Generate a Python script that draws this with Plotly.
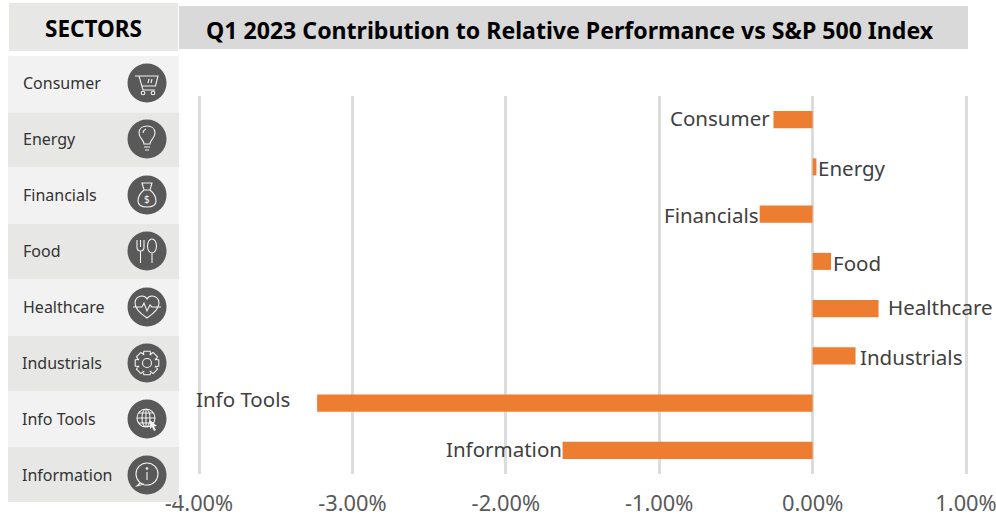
import math, re
import plotly.graph_objects as go

categories = ["Consumer", "Energy", "Financials", "Food", "Healthcare", "Industrials", "Info Tools", "Information"]
values = [-0.255, 0.025, -0.345, 0.12, 0.43, 0.28, -3.23, -1.63]
tick_vals = [-4, -3, -2, -1, 0, 1]
tick_text = ["-4.00%", "-3.00%", "-2.00%", "-1.00%", "0.00%", "1.00%"]
title_text = "Q1 2023 Contribution to Relative Performance vs S&P 500 Index"
header_text = "SECTORS"

FONT = "Noto Sans"
W, H = 996, 516
TXT = "#404040"
label_shift_x = [-1, 0, 1, 0, 7, 2, -25.5, 1]
label_shift_y = [1.5, -1, -1, -2, 2, -1, 4, 1]

row_edges = [56, 112.5, 167, 224, 279, 336, 391, 447, 502]
row_text_y = [83, 139, 195, 251, 307, 363, 419, 475]
row_text_x = [21, 21, 21, 21, 21, 20, 20, 20]
icon_x = 147
# the axis runs a little past -4% and 1% so that the outer gridlines are kept
axis_pad = 0.02
px_left, px_right = 199, 966
px_per_unit = (px_right - px_left) / 5

def circ(x, y, r, ry=None):
    ry = r if ry is None else ry
    k = 0.5523
    return (f"M {x-r} {y} C {x-r} {y-k*ry} {x-k*r} {y-ry} {x} {y-ry} "
            f"C {x+k*r} {y-ry} {x+r} {y-k*ry} {x+r} {y} "
            f"C {x+r} {y+k*ry} {x+k*r} {y+ry} {x} {y+ry} "
            f"C {x-k*r} {y+ry} {x-r} {y+k*ry} {x-r} {y} Z ")

def shift(path, cx, cy):
    out, is_x = [], True
    for tok in path.split():
        if re.fullmatch(r"[A-Z]", tok):
            out.append(tok); is_x = True
        else:
            v = float(tok)
            out.append(f"{v + (cx if is_x else cy):.2f}")
            is_x = not is_x
    return " ".join(out)

gear = ""
for i in range(8):
    a = i * math.pi / 4
    b1, b2 = a - 0.26, a + 0.26
    pts = [(9.2, a - 0.42), (12.2, b1), (12.2, b2), (9.2, a + 0.42)]
    for j, (r, t) in enumerate(pts):
        cmd = "M" if (i == 0 and j == 0) else "L"
        gear += f"{cmd} {r*math.cos(t):.2f} {r*math.sin(t):.2f} "
gear += "Z " + circ(0, 0, 4.5)

icons = [
    "M -12 -7 L -8 -7 L -4 7 L 8 7 M -7.5 -7 L 11 -7 L 8.5 3 L -5 3 M 2 -4 L 1 0 M 5 -4 L 4 0 " + circ(-4, 10, 1.8) + circ(6, 10, 1.8),
    "M -3 5 C -3 1 -8 -1 -8 -6 C -8 -11 -4 -13 0 -13 C 4 -13 8 -11 8 -6 C 8 -1 3 1 3 5 Z M -3 8 L 3 8 M -2 11 L 2 11 M -4 -6 C -4 -8 -3 -9 -1 -10",
    "M -5 -12 L 5 -12 L 3 -5 L -3 -5 Z M -3 -5 C -8 -1 -9 3 -9 6 C -9 11 -5 12 0 12 C 5 12 9 11 9 6 C 9 3 8 -1 3 -5",
    "M -10 -11 L -10 -4 C -10 -1 -8 0 -6.5 0 C -5 0 -3 -1 -3 -4 L -3 -11 M -6.5 -11 L -6.5 -4 M -6.5 0 L -6.5 12 " + circ(5, -5, 4.5, 7) + "M 5 2 L 5 12",
    "M 0 11 C -6 7 -12 2 -12 -4 C -12 -9 -8 -11 -5 -11 C -3 -11 -1 -10 0 -8 C 1 -10 3 -11 5 -11 C 8 -11 12 -9 12 -4 C 12 2 6 7 0 11 Z M -14 0 L -5 0 L -3 -4 L 0 4 L 3 -2 L 5 0 L 14 0",
    gear,
    circ(-1, -1, 9) + circ(-1, -1, 4, 9) + "M -10 -1 L 8 -1 M -8 -6 L 6 -6 M -8 4 L 6 4 M -1 -10 L -1 8",
    circ(0, -1, 11) + "M -7 8 L -10 11 L -3 9 M 0 -3 L 0 5 " + circ(0, -6.5, 0.8),
]

shapes = []
def rect(x0, y0, x1, y1, color):
    shapes.append(dict(type="rect", xref="x2", yref="y2", x0=x0, x1=x1, y0=y0, y1=y1,
                       fillcolor=color, line_width=0, layer="below"))

rect(9, 3, 178, 51, "#e7e7e5")
rect(179, 6, 968, 49, "#d9d9d9")
for i in range(8):
    rect(8, row_edges[i], 179, row_edges[i + 1], "#f2f2f2" if i % 2 == 0 else "#e7e7e5")
    shapes.append(dict(type="circle", xref="x2", yref="y2", x0=icon_x - 19.5, x1=icon_x + 19.5,
                       y0=row_text_y[i] - 19.5, y1=row_text_y[i] + 19.5,
                       fillcolor="#595959", line_width=0, layer="above"))
    shapes.append(dict(type="path", xref="x2", yref="y2", path=shift(icons[i], icon_x, row_text_y[i]),
                       line=dict(color="#f2f2f2", width=1.1), fillcolor="rgba(0,0,0,0)", layer="above"))
# cursor on the globe icon
shapes.append(dict(type="path", xref="x2", yref="y2",
                   path=shift("M 3 1 L 10 7 L 7 7.5 L 9 11 L 7 12 L 5 8 L 3 10 Z", icon_x, row_text_y[6]),
                   fillcolor="#f2f2f2", line_width=0, layer="above"))

annotations = [
    dict(xref="x2", yref="y2", x=93, y=28, text=f"<b>{header_text}</b>", showarrow=False,
         font=dict(family=FONT, size=22.5, color="#000000"), xanchor="center", yanchor="middle"),
    dict(xref="x2", yref="y2", x=569.5, y=30, text=f"<b>{title_text}</b>", showarrow=False,
         font=dict(family=FONT, size=23.1, color="#000000"), xanchor="center", yanchor="middle"),
    dict(xref="x2", yref="y2", x=icon_x, y=row_text_y[2] + 4, text="$", showarrow=False,
         font=dict(family=FONT, size=10, color="#f2f2f2"), xanchor="center", yanchor="middle"),
]
for i, c in enumerate(categories):
    annotations.append(dict(xref="x2", yref="y2", x=row_text_x[i], y=row_text_y[i], text=c, showarrow=False,
                            font=dict(family=FONT, size=16, color="#333333"), xanchor="left", yanchor="middle"))
    annotations.append(dict(xref="x", yref="y", x=values[i], y=c, text=c, showarrow=False,
                            xanchor="right" if values[i] < 0 else "left", yanchor="middle",
                            xshift=label_shift_x[i], yshift=label_shift_y[i],
                            font=dict(family=FONT, size=20.5, color=TXT)))

fig = go.Figure(go.Bar(x=values, y=categories, orientation="h", marker=dict(color="#ed7d31", line_width=0),
                       hoverinfo="skip"))
# invisible trace that activates the pixel-space overlay axes
fig.add_trace(go.Scatter(x=[0], y=[0], xaxis="x2", yaxis="y2", mode="markers",
                         marker=dict(opacity=0), hoverinfo="skip", showlegend=False))
fig.update_layout(
    width=W, height=H, autosize=False, margin=dict(l=0, r=0, t=0, b=0, pad=0), showlegend=False,
    paper_bgcolor="#ffffff", plot_bgcolor="rgba(0,0,0,0)", bargap=0.64,
    xaxis=dict(domain=[(px_left - axis_pad * px_per_unit) / W, (px_right + axis_pad * px_per_unit) / W],
               range=[-4 - axis_pad, 1 + axis_pad], tickvals=tick_vals, ticktext=tick_text,
               automargin=False, ticklabeloverflow="allow",
               showgrid=True, gridcolor="#dcdcdc", gridwidth=2.5, zeroline=False, showline=False,
               ticks="outside", ticklen=10, tickcolor="rgba(0,0,0,0)", anchor="y",
               tickfont=dict(family=FONT, size=21.8, color="#595959")),
    yaxis=dict(domain=[(H - 474) / H, (H - 96) / H], categoryorder="array", categoryarray=categories,
               automargin=False, autorange="reversed", visible=False, anchor="x"),
    xaxis2=dict(domain=[0, 1], range=[0, W], visible=False, anchor="y2", automargin=False),
    yaxis2=dict(domain=[0, 1], range=[H, 0], visible=False, anchor="x2", automargin=False),
    shapes=shapes, annotations=annotations,
)
fig.write_html("out.html", config={"displayModeBar": False},
               post_script="document.body.style.margin='0';document.body.style.overflow='hidden';")
